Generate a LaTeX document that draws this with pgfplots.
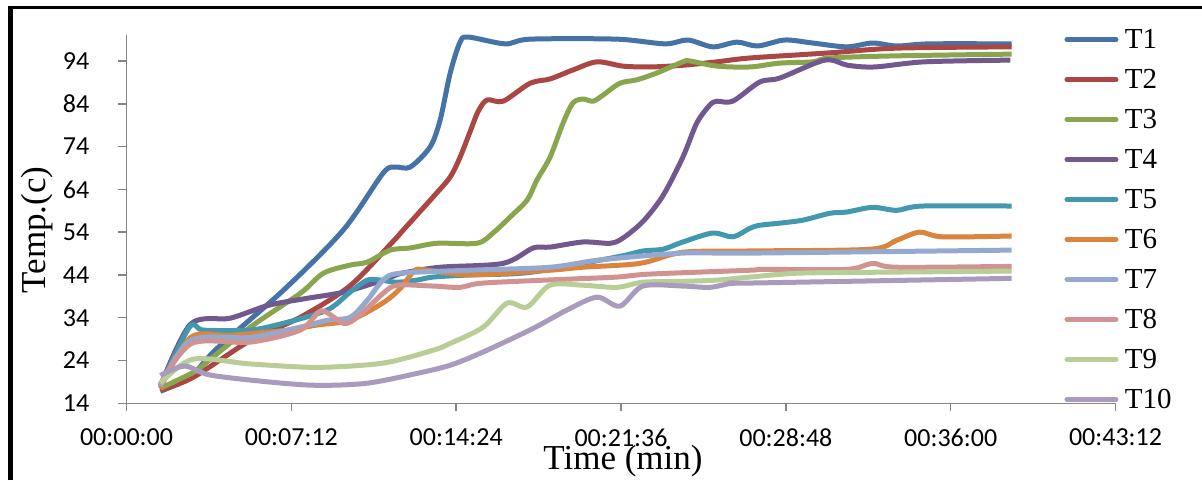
\documentclass[border=0pt]{standalone}
\usepackage{pgfplots}
\pgfplotsset{compat=1.18}
\usepackage{fontspec}
\setmainfont{Liberation Serif}
\newfontfamily\calibri{Carlito}
\definecolor{c1}{HTML}{4572A7}
\definecolor{c2}{HTML}{AA4643}
\definecolor{c3}{HTML}{89A54E}
\definecolor{c4}{HTML}{71588F}
\definecolor{c5}{HTML}{4198AF}
\definecolor{c6}{HTML}{DB843D}
\definecolor{c7}{HTML}{93A9CF}
\definecolor{c8}{HTML}{D19392}
\definecolor{c9}{HTML}{B9CD96}
\definecolor{c10}{HTML}{A99BBD}
\definecolor{axgray}{HTML}{868686}
\begin{document}
\begin{tikzpicture}
\useasboundingbox (0pt,0pt) rectangle (1202pt,480pt);
\draw[line width=5.5pt] (10.5pt,0pt) -- (10.5pt,474pt);
\draw[line width=3pt] (7.75pt,472.5pt) -- (1202pt,472.5pt);
\begin{axis}[
  at={(126.5pt,76.7pt)}, anchor=south west,
  scale only axis, width=989pt, height=368pt,
  xmin=0, xmax=43.2, ymin=14, ymax=100,
  axis lines*=left,
  axis line style={draw=axgray, line width=1.5pt},
  xtick={0,7.2,14.4,21.6,28.8,36,43.2},
  xticklabels={00:00:00,00:07:12,00:14:24,00:21:36,00:28:48,00:36:00,00:43:12},
  ytick={14,24,34,44,54,64,74,84,94},
  yticklabels={14,24,34,44,54,64,74,84,94},
  tick align=outside,
  major tick length=8pt,
  tick style={draw=axgray, line width=1.5pt},
  ticklabel style={font=\calibri\fontsize{26}{26}\selectfont},
  xticklabel style={anchor=north, inner sep=0pt, yshift=-17.5pt},
  yticklabel style={anchor=east, inner sep=0pt, xshift=-29pt},
  xlabel={Time (min)},
  ylabel={Temp.(c)},
  label style={font=\fontsize{35}{35}\selectfont},
  xlabel style={at={(axis description cs:0.502,-0.181)}, anchor=base},
  ylabel style={at={(axis description cs:-0.0819,0.471)}, anchor=base},
  clip=false,
  every axis plot/.append style={line width=5pt, smooth, tension=0.5, no markers, line join=round},
  legend style={at={(axis description cs:0.9484,1.016)}, anchor=north west,
    draw=none, fill=none, inner sep=0pt, outer sep=0pt, row sep=19.3pt,
    font=\fontsize{29}{29}\selectfont,
    nodes={inner sep=0pt},
    /tikz/every odd column/.append style={column sep=6.5pt}},
  legend cell align=left,
  legend image code/.code={\draw[#1, line cap=round] (0pt,0pt) -- (49pt,0pt);},
]
\addplot[c1] coordinates {(1.48,16.8)(2.8,20.3)(3.97,26.9)(6.85,40.4)(9.47,54.5)(11.21,67.8)(11.74,69.2)(12.39,69.2)(13.26,73.9)(13.70,80.2)(14.14,91.2)(14.57,98.4)(14.92,99.6)(16.54,98)(17.63,99.1)(21.42,99.1)(23.52,98)(24.52,98.9)(25.61,97.3)(26.66,98.4)(27.57,97.5)(28.75,98.9)(29.97,98.2)(31.46,97.3)(32.59,98.2)(33.64,97.5)(35.08,98)(38.66,98)};
\addlegendentry{T1}
\addplot[c2] coordinates {(1.48,17)(2.92,20.1)(5.41,28.7)(7.59,34.1)(9.77,41.5)(11.69,52.1)(12.09,54.5)(13.39,62.2)(14.14,66.9)(14.57,71.5)(15.01,77.5)(15.36,82.2)(15.75,84.9)(16.45,84.6)(17.63,88.8)(18.5,89.8)(19.5,91.9)(20.55,93.8)(21.68,92.8)(22.86,92.6)(24.3,93)(25.79,93.8)(27.23,94.7)(30.72,95.9)(33.64,97)(38.66,97.3)};
\addlegendentry{T2}
\addplot[c3] coordinates {(1.48,17.5)(2.84,21)(3.23,22.4)(5.41,31.8)(7.59,39.7)(8.6,44.4)(9.77,46.3)(10.52,47)(11.52,49.8)(12.39,50.3)(13.57,51.4)(15.31,51.4)(16.01,53.8)(16.75,57.5)(17.5,61.5)(17.93,66.2)(18.5,71.5)(19.07,79.5)(19.5,84.2)(19.94,85.1)(20.38,84.6)(20.81,86)(21.55,88.8)(22.29,89.6)(23.17,91.2)(24.3,93.8)(24.61,94)(25.79,92.8)(27.23,92.6)(28.53,93.5)(29.97,93.8)(30.72,94.7)(33.64,95.2)(38.66,95.6)};
\addlegendentry{T3}
\addplot[c4] coordinates {(1.48,18)(2.8,32.5)(4.54,33.9)(6.2,36.9)(7.85,38.5)(9.51,40)(11.21,42.8)(12.04,44.4)(13.7,45.8)(16.45,46.7)(17.76,50.3)(18.5,50.5)(19.94,51.7)(21.12,51.4)(21.68,52.6)(22.56,56.5)(23.43,62.5)(24.3,71.5)(24.91,79.5)(25.48,83.7)(25.79,84.6)(26.48,84.6)(27.66,89.1)(28.53,90)(30.5,94.2)(31.5,93)(32.68,92.6)(34.86,93.8)(38.61,94.2)};
\addlegendentry{T4}
\addplot[c5] coordinates {(1.48,18)(2.75,31.8)(3.36,31.1)(5.37,31.1)(6.85,32.7)(8.77,35.8)(9.77,40)(10.52,42.8)(11.08,42.8)(11.82,42.3)(12.7,42.8)(13.39,43.5)(15.01,44)(17.63,44.6)(21.42,48.2)(22.56,49.6)(23.43,50)(24.3,51.7)(25.61,53.8)(26.48,52.9)(27.23,54.9)(27.66,55.6)(28.53,56.1)(29.54,56.8)(30.72,58.4)(31.46,58.7)(32.59,59.8)(33.64,59.1)(34.77,60.1)(38.66,60.1)};
\addlegendentry{T5}
\addplot[c6] coordinates {(1.48,17.5)(2.8,29.4)(4.54,29.9)(7.02,31.1)(8.33,32.3)(9.77,33.4)(11.21,37.5)(11.95,40.8)(12.6,45.1)(13.13,45.1)(15.01,44)(18.5,45.1)(19.94,45.8)(22.43,46.7)(24.3,49.3)(27.23,49.6)(32.46,50)(33.64,52.1)(34.64,54)(35.65,52.9)(38.66,53.1)};
\addlegendentry{T6}
\addplot[c7] coordinates {(1.48,18)(2.8,28.7)(5.41,29.4)(7.59,31.8)(8.77,33.4)(9.77,34.1)(10.52,38.1)(11.21,42.8)(11.95,44.4)(15.01,45.1)(18.5,45.8)(20.68,47.5)(24.3,49.1)(27.23,49.1)(38.66,49.8)};
\addlegendentry{T7}
\addplot[c8] coordinates {(1.48,18.5)(2.85,28)(5.41,28.3)(7.59,31.1)(8.51,35.6)(9.47,32.7)(10.08,34.1)(11.21,39.7)(11.82,41.6)(13.39,41.4)(14.57,41.1)(15.58,42.1)(19.24,43)(21.42,43.5)(22.86,44.2)(27.23,45.1)(27.79,45.3)(31.46,45.3)(32.59,46.7)(33.64,45.8)(38.66,46)};
\addlegendentry{T8}
\addplot[c9] coordinates {(1.48,18.7)(2.9,24.3)(5.41,23.2)(8.33,22.4)(11.21,23.4)(13.39,26.4)(14.14,28)(15.58,31.8)(16.62,37.4)(17.5,36.5)(18.5,41.6)(19.94,41.6)(21.42,41.1)(22.56,42.3)(24.3,42.5)(25.79,42.8)(27.23,43.5)(29.28,44.4)(32.16,44.6)(38.66,44.9)};
\addlegendentry{T9}
\addplot[c10] coordinates {(1.48,20.5)(2.53,22.7)(3.66,20.6)(6.2,19)(8.33,18.2)(10.52,18.7)(12.7,21)(14.14,22.9)(15.58,26)(17.76,31.5)(19.24,35.8)(20.55,38.8)(21.55,36.7)(22.56,41.4)(24.3,41.4)(25.48,41.1)(26.48,42.1)(27.23,42.1)(38.66,43.2)};
\addlegendentry{T10}
\end{axis}
\end{tikzpicture}
\end{document}
